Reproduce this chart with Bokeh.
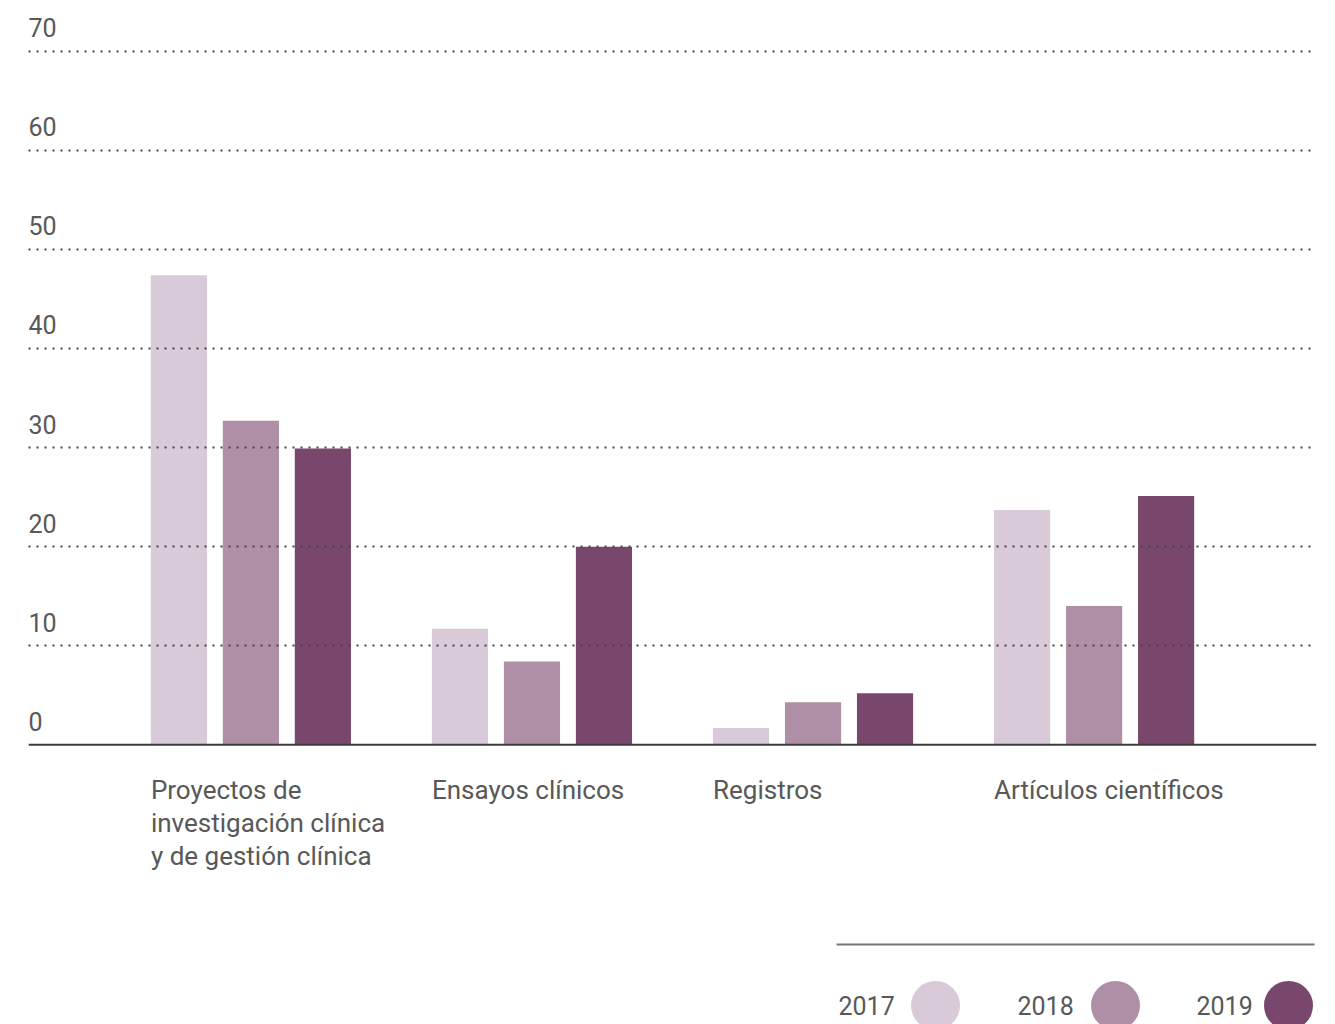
from bokeh.plotting import figure
from bokeh.models import (FactorRange, Range1d, ColumnDataSource, FixedTicker,
                          LabelSet, Span)
from bokeh.layouts import column
from bokeh.core.properties import value
from bokeh.embed import file_html
from bokeh.resources import INLINE

# ---- data ----
categories = ["Proyectos de investigación clínica y de gestión clínica",
              "Ensayos clínicos", "Registros", "Artículos científicos"]
category_labels = ["Proyectos de\ninvestigación clínica\ny de gestión clínica",
                   "Ensayos clínicos", "Registros", "Artículos científicos"]
years = ["2017", "2018", "2019"]
values_2017 = [47.4, 11.7, 1.7, 23.7]
values_2018 = [32.7, 8.4, 4.3, 14.0]
values_2019 = [29.9, 20.0, 5.2, 25.1]
y_ticks = [0, 10, 20, 30, 40, 50, 60, 70]
colors = ["#d8cad8", "#af8fa5", "#7a476c"]

FONT = "Roboto"
TEXT_COLOR = "#585858"

series = {"2017": values_2017, "2018": values_2018, "2019": values_2019}
x = [(c, y) for c in categories for y in years]
tops = [series[y][i] for i, c in enumerate(categories) for y in years]
cols = [colors[j] for i, c in enumerate(categories) for j, y in enumerate(years)]
src = ColumnDataSource(dict(x=x, top=tops, color=cols))

CH = 920  # chart canvas height
FL, FR = 28, 1316  # frame left / right in page pixels
px_per_unit = 693.6 / 70.0
y_end = 70 + 50.7 / px_per_unit
y_start = -(CH - 744.3) / px_per_unit

p = figure(width=1335, height=CH,
           x_range=FactorRange(*x, factor_padding=0.0, group_padding=0.904,
                               range_padding=1.589, range_padding_units="absolute"),
           y_range=Range1d(y_start, y_end),
           x_axis_location=None, y_axis_location=None,
           output_backend="svg", toolbar_location=None,
           min_border=0, min_border_left=FL, min_border_right=1335 - FR)
p.outline_line_color = None
p.background_fill_color = "white"
p.border_fill_color = "white"
p.xgrid.visible = False
p.ygrid.ticker = FixedTicker(ticks=[t for t in y_ticks if t > 0])
p.ygrid.grid_line_color = "#444444"
p.ygrid.grid_line_width = 2.2
p.ygrid.grid_line_dash = "2 6"
p.ygrid.level = "overlay"

# bars
p.vbar(x="x", top="top", bottom=0, width=0.78, color="color", line_color=None, source=src)

# baseline
p.add_layout(Span(location=0, dimension="width", line_color="#3c3c3c", line_width=2))

# y tick labels above grid lines
tick_src = ColumnDataSource(dict(x=[0] * len(y_ticks), y=y_ticks, text=[str(t) for t in y_ticks]))
p.add_layout(LabelSet(x="x", y="y", text="text", source=tick_src, x_units="screen",
                      y_offset=14, text_font=value(FONT), text_font_size="25px",
                      text_color=TEXT_COLOR, text_align="left", text_baseline="alphabetic"))

# category labels (left aligned to first bar of each group)
p.text(x=[(c, "2017") for c in categories], y=[0] * len(categories), text=category_labels,
       x_offset=-28, y_offset=30, text_font=value(FONT), text_font_size="26px",
       text_color=TEXT_COLOR, text_align="left", text_baseline="top", text_line_height=1.11)

# ---- legend strip ----
leg = figure(width=1335, height=1024 - CH, x_range=Range1d(FL, FR), y_range=Range1d(1024, CH),
             x_axis_location=None, y_axis_location=None,
             output_backend="svg", toolbar_location=None,
             min_border=0, min_border_left=FL, min_border_right=1335 - FR)
leg.outline_line_color = None
leg.grid.visible = False
leg.background_fill_color = "white"
leg.border_fill_color = "white"
leg.segment(x0=[836], x1=[1314], y0=[944], y1=[944], line_color="#777777", line_width=2)
legend_text_x = [838, 1017, 1196]
legend_dot_x = [935, 1115, 1288]
leg.text(x=legend_text_x, y=[1005] * 3, text=years,
         text_font=value(FONT), text_font_size="25px", text_color=TEXT_COLOR,
         text_align="left", text_baseline="middle")
leg.scatter(x=legend_dot_x, y=[1005] * 3, size=49, marker="circle", color=colors, line_color=None)

layout = column(p, leg, spacing=0)
open("out.html", "w").write(file_html(layout, INLINE))
